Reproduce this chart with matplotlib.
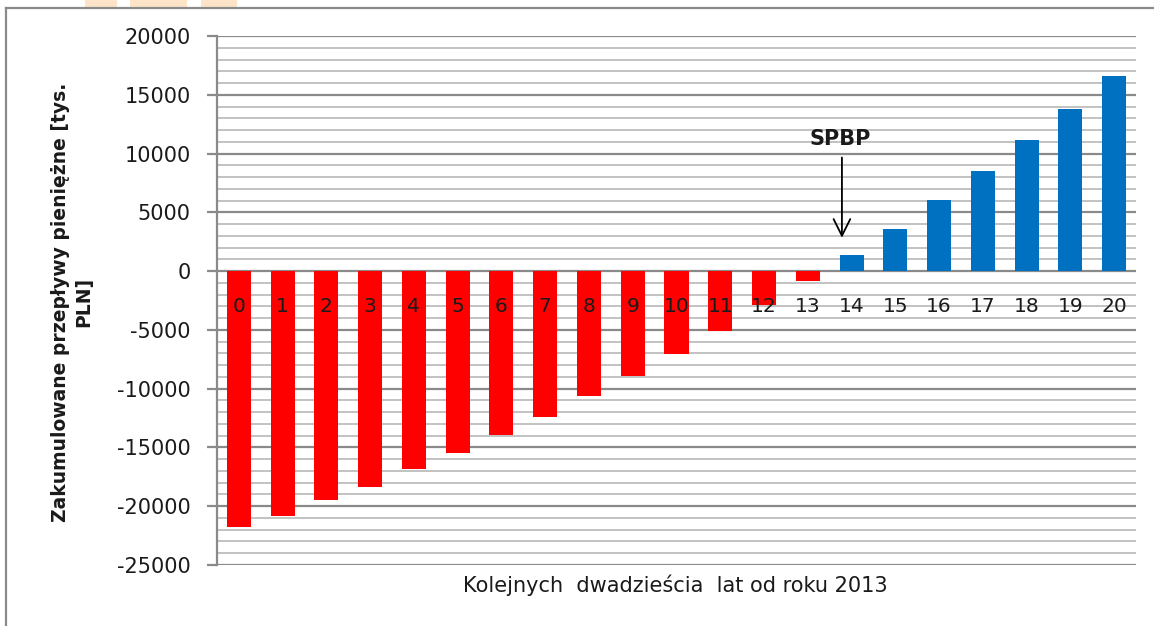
import matplotlib
matplotlib.use("Agg")
import matplotlib.pyplot as plt
from matplotlib.patches import Rectangle
from matplotlib.lines import Line2D
import matplotlib.transforms as mtransforms
import numpy as np

years = list(range(21))
values = [-21800, -20850, -19500, -18400, -16850, -15500, -13950, -12400,
          -10650, -8950, -7050, -5100, -2900, -850,
          1350, 3600, 6050, 8500, 11150, 13800, 16600]
ytick_vals = [20000, 15000, 10000, 5000, 0, -5000, -10000, -15000, -20000, -25000]
ylabel = "Zakumulowane przepływy pieniężne [tys.\nPLN]"
xlabel = "Kolejnych  dwadzieścia  lat od roku 2013"
annot_text = "SPBP"
annot_x = 13.78
annot_text_y = 11230
annot_tip_y = 2600
annot_start_y = 9900

W, H = 1154, 626
fig = plt.figure(figsize=(W / 100, H / 100), dpi=100)
fig.patch.set_facecolor("white")

ax = fig.add_axes([217 / W, 1 - 565 / H, (1136 - 217) / W, (565 - 36) / H])

colors = ["#FF0000" if v < 0 else "#0070C0" for v in values]
ax.bar(years, values, width=0.55, color=colors, zorder=3)

ax.set_xlim(-0.5, 20.5)
ax.set_ylim(-25000, 20000)

# grid
for y in range(-25000, 20001, 1000):
    if y % 5000 == 0:
        ax.axhline(y, color="#8a8a8a", lw=1.6, zorder=1)
    else:
        ax.axhline(y, color="#bdbdbd", lw=1.3, zorder=1)

for s in ["top", "right", "bottom"]:
    ax.spines[s].set_visible(False)
ax.spines["left"].set_color("#8a8a8a")
ax.spines["left"].set_linewidth(1.6)

ax.set_yticks(ytick_vals)
ax.set_yticklabels([str(v) for v in ytick_vals], fontsize=15, color="#1a1a1a")
ax.tick_params(axis="y", length=7, width=1.6, color="#8a8a8a", pad=12)
ax.set_xticks([])

# category labels next to zero line
offset = mtransforms.offset_copy(ax.transData, fig=fig, x=0, y=-35, units="dots")
for i in years:
    ax.text(i, 0, str(i), transform=offset, ha="center", va="center",
            fontsize=14.5, color="#1a1a1a", zorder=4)

ax.annotate("", xy=(annot_x, annot_tip_y), xytext=(annot_x, annot_start_y),
            arrowprops=dict(arrowstyle="->", color="black", lw=1.3,
                            mutation_scale=30), zorder=5)
ax.text(annot_x - 0.05, annot_text_y, annot_text, ha="center", va="center",
        fontsize=15, fontweight="bold", color="#1a1a1a", zorder=5)

fig.text(72 / W, 1 - 302 / H, ylabel, rotation=90, ha="center", va="center",
         fontsize=13.5, fontweight="bold", color="#1a1a1a", linespacing=1.25,
         multialignment="center")
fig.text(675 / W, 1 - 585 / H, xlabel, ha="center", va="center",
         fontsize=15, color="#1a1a1a")

# chart-area border (top and left)
fig.add_artist(Line2D([6 / W, 1], [1 - 8 / H, 1 - 8 / H], color="#8a8a8a", lw=1.6,
                      transform=fig.transFigure))
fig.add_artist(Line2D([6 / W, 6 / W], [0, 1 - 8 / H], color="#8a8a8a", lw=1.6,
                      transform=fig.transFigure))

# faint orange marks at the top edge
for x0, x1 in [(85, 117), (130, 187), (201, 237)]:
    fig.add_artist(Rectangle((x0 / W, 1 - 7 / H), (x1 - x0) / W, 7 / H,
                             transform=fig.transFigure, color="#FDE3C8", lw=0))

fig.savefig("out.png", dpi=100)
